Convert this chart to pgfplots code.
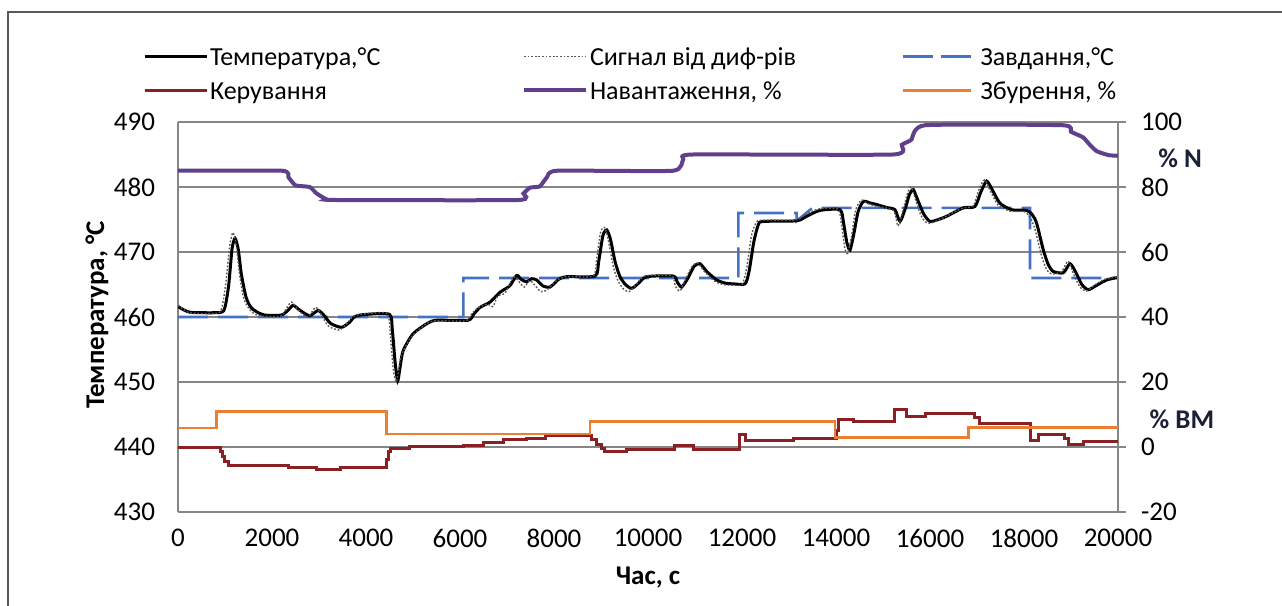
\documentclass[border=0pt]{standalone}
\usepackage{fontspec}
\setmainfont{Carlito}
\usepackage{pgfplots}
\pgfplotsset{compat=1.18}
\definecolor{setblue}{RGB}{68,114,196}
\definecolor{ctrlred}{RGB}{138,32,36}
\definecolor{loadpurple}{RGB}{96,64,140}
\definecolor{distorange}{RGB}{237,125,49}
\definecolor{gridgray}{RGB}{134,134,134}
\definecolor{labeldark}{RGB}{28,32,52}

\pgfplotstableread{
x T
0 461.6
150 461.0
300 460.7
900 460.7
1000 461.5
1080 465
1150 470.5
1213 472.1
1280 470.5
1350 466.5
1450 463
1550 461.5
1674 460.8
1840 460.3
2200 460.3
2350 461.1
2450 461.8
2600 461.0
2800 460.2
2980 461.0
3100 460.3
3250 459.0
3480 458.4
3650 459.2
3770 460.1
4000 460.4
4500 460.4
4560 458
4620 453
4674 450.2
4720 452
4790 454.8
5000 457.4
5300 459
5500 459.5
6170 459.5
6300 460.5
6430 461.5
6640 462.3
6850 463.8
7060 464.8
7206 466.4
7300 465.8
7419 465.4
7520 465.9
7631 465.7
7760 464.8
7915 464.6
8100 465.8
8270 466.2
8872 466.3
8950 468.5
9040 472.5
9121 473.4
9200 472
9300 468.5
9404 466.2
9520 465
9653 464.4
9800 465.2
9972 466.2
10538 466.3
10620 465.4
10716 464.6
10850 466
10980 467.8
11106 468.2
11250 467
11461 465.7
11650 465.2
11816 465.1
12064 465.1
12150 467
12250 471.5
12347 474.2
12450 474.7
13163 474.8
13376 475.5
13660 476.4
14085 476.5
14160 474.5
14230 471.5
14298 470.3
14380 472.8
14470 476.2
14582 477.8
14700 477.6
14865 477.3
15100 476.8
15255 476.5
15362 474.7
15480 476.8
15560 478.8
15645 479.6
15750 477.8
15870 475.8
16000 474.7
16180 475.0
16355 475.5
16710 476.8
16957 477.0
17080 479.2
17206 480.9
17330 479.5
17489 477.5
17738 476.5
18057 476.4
18170 475.8
18270 474.4
18411 470.3
18520 468
18624 467
18836 466.8
18979 468.2
19100 466.9
19230 465
19368 464.2
19550 464.9
19759 465.7
20000 466.1
}\temptable

\pgfplotstableread{
x S
0 461.8
150 461.0
300 460.6
850 460.6
950 462
1030 466
1100 471
1170 473.0
1240 471
1310 466.5
1400 462.8
1520 461.2
1650 460.4
1840 460.1
2200 460.2
2330 461.6
2420 462.3
2570 461.0
2760 460.0
2930 461.5
3060 460.2
3200 458.6
3430 458.0
3600 459.0
3730 460.1
4000 460.5
4450 460.5
4520 457
4580 452
4640 450.0
4690 451.5
4750 454
4950 456.8
5250 458.8
5450 459.4
6120 459.4
6250 460.5
6380 461.4
6580 462.0
6700 461.6
6800 463.2
6950 463.6
7010 464.4
7150 466.2
7300 465.0
7370 464.6
7480 465.6
7580 465.0
7720 463.9
7860 464.2
8050 465.6
8250 466.2
8830 466.3
8910 469
8990 473.0
9070 473.8
9150 472
9260 467.8
9360 465.6
9480 464.3
9600 463.9
9750 465
9930 466.3
10500 466.3
10580 464.8
10680 464.0
10800 465.8
10940 467.8
11060 468.3
11200 467
11420 465.5
11600 465.0
11780 464.9
12000 465.0
12100 467.5
12200 472.5
12300 474.5
12420 474.9
13130 474.9
13340 475.7
13620 476.6
14040 476.6
14120 474
14190 470.5
14250 469.8
14330 472.5
14420 476.5
14540 478.0
14660 477.5
14830 477.1
15220 476.4
15320 474.0
15440 476.8
15520 479.0
15600 480.0
15710 477.6
15830 475.3
15960 474.4
16150 474.8
16320 475.4
16670 476.7
16920 477.1
17040 479.6
17160 481.1
17290 479.3
17450 477.2
17700 476.3
18010 476.2
18130 475.3
18230 473.6
18370 469.5
18480 467.3
18590 466.6
18800 467
18940 468.6
19060 466.5
19190 464.6
19330 464.0
19520 465
19720 465.8
20000 466.2
}\sigtable

\pgfplotstableread{
x Z
0 460
6071 460
6071 466
11922 466
11922 476
13163 476
13163 474.8
13500 476.8
18128 476.8
18128 466
20000 466
}\settable

\pgfplotstableread{
x U
0 -0.3
894 -1.5
950 -3
1000 -4.5
1080 -5.8
2347 -6.4
2950 -6.9
3447 -6.4
4440 -4
4470 -1.5
4520 -0.4
4936 0.1
6071 0.6
6496 1.3
6922 2.2
7418 2.7
7809 3.4
8802 2.2
8908 0.8
9015 -0.4
9085 -1.4
9546 -0.7
10574 0.6
10960 -0.7
11957 3.7
12064 1.9
13092 2.7
14000 5
14050 8.6
14368 7.8
15255 11.4
15504 9.3
15894 10.4
16957 9
17050 7.3
18128 1.9
18300 3.9
18872 2.5
18950 0.9
19262 1.6
20000 1.6
}\ctrltable

\pgfplotstableread{
x N
0 85
2213 85
2350 83
2500 80.5
2800 80
2950 78
3150 76.3
3350 76
7234 76
7350 78
7490 79.8
7700 80.2
7850 83
8064 85
10530 85
10750 88.5
10960 90
15213 90
15400 93
15600 94.5
15894 99
18830 99
19000 97
19255 95.3
19400 93
19550 91
19800 89.8
20000 89.6
}\loadtable

\pgfplotstableread{
x D
0 5.9
823 10.9
4440 4.0
8766 7.8
13979 3.0
16815 6.0
20000 6.0
}\disttable

\begin{document}
\begin{tikzpicture}[font=\fontsize{13.5}{16}\selectfont]
\useasboundingbox (0,0) rectangle (641pt,303pt);
\draw[black!65, line width=0.8pt] (4pt,-10pt) -- (4pt,297pt) -- (660pt,297pt);
\begin{axis}[
  at={(89pt,47pt)}, anchor=south west, scale only axis,
  width=470pt, height=195pt,
  xmin=0, xmax=20000, ymin=430, ymax=490,
  xtick={0,2000,...,20000}, ytick={430,440,...,490},
  scaled x ticks=false,
  /pgf/number format/1000 sep={},
  /pgf/number format/assume math mode=true,
  axis x line*=bottom, axis y line*=left,
  axis line style={gridgray, line width=0.8pt},
  major tick length=0pt,
  ymajorgrids, grid style={gridgray, line width=0.8pt},
  xticklabel style={yshift=-5pt},
  yticklabel style={xshift=-8pt},
  xlabel={\textbf{Час, с}},
  ylabel={\textbf{Температура, °С}},
  xlabel style={at={(axis description cs:0.5,0)}, anchor=center, yshift=-33pt},
  ylabel style={at={(axis description cs:-0.0862,0.505)}, anchor=center},
]
\addplot[setblue, line width=1.3pt, dash pattern=on 15pt off 5pt] table[x=x,y=Z] {\settable};
\addplot[black, line width=1.5pt, smooth, tension=0.4] table[x=x,y=T] {\temptable};
\addplot[black!65, line width=0.7pt, dash pattern=on 0.9pt off 0.9pt, smooth, tension=0.4] table[x=x,y=S] {\sigtable};
\end{axis}
\begin{axis}[
  at={(89pt,47pt)}, anchor=south west, scale only axis,
  width=470pt, height=195pt,
  xmin=0, xmax=20000, ymin=-20, ymax=100,
  ytick={-20,0,...,100},
  /pgf/number format/assume math mode=true,
  axis x line=none, axis y line*=right,
  axis line style={gridgray, line width=0.8pt},
  ytick style={gridgray, line width=0.8pt},
  major tick length=4pt, tick align=outside,
  yticklabel style={xshift=4pt},
  clip mode=individual,
  legend columns=3,
  legend cell align=left,
  legend image code/.code={\draw[#1] (0pt,0pt) -- (31pt,0pt);},
  legend style={draw=none, fill=none, inner sep=0pt, outer sep=0pt,
    at={(axis description cs:-0.0372,1.1244)}, anchor=west,
    font=\fontsize{13}{15.6}\selectfont,
    nodes={inner sep=1pt}, row sep=2.5pt,
    /tikz/every even column/.append style={column sep=0pt}},
]
\addlegendimage{black, line width=1.5pt}
\addlegendentry{\makebox[155pt][l]{Температура,°С\strut}}
\addlegendimage{black!65, line width=0.7pt, dash pattern=on 0.9pt off 0.9pt}
\addlegendentry{\makebox[155pt][l]{Сигнал від диф-рів\strut}}
\addlegendimage{legend image code/.code={\draw[setblue, line width=1.3pt, dash pattern=on 15pt off 4pt] (0pt,0pt) -- (34pt,0pt);}}
\addlegendentry{\makebox[155pt][l]{\hspace{3pt}Завдання,°С\strut}}
\addplot[ctrlred, line width=1.5pt, const plot] table[x=x,y=U] {\ctrltable};
\addlegendentry{\makebox[155pt][l]{Керування\strut}}
\addplot[loadpurple, line width=2pt, smooth, tension=0.3] table[x=x,y=N] {\loadtable};
\addlegendentry{\makebox[155pt][l]{Навантаження, \%\strut}}
\addplot[distorange, line width=1.3pt, const plot, legend image code/.code={\draw[distorange, line width=1.3pt] (0pt,0pt) -- (34pt,0pt);}] table[x=x,y=D] {\disttable};
\addlegendentry{\makebox[155pt][l]{\hspace{3pt}Збурення, \%\strut}}
\node[font=\fontsize{13.5}{16}\selectfont\bfseries, text=labeldark] at (axis description cs:1.066,0.908) {\% N};
\node[font=\fontsize{13.5}{16}\selectfont\bfseries, text=labeldark] at (axis description cs:1.068,0.238) {\% ВМ};
\end{axis}
\end{tikzpicture}
\end{document}
